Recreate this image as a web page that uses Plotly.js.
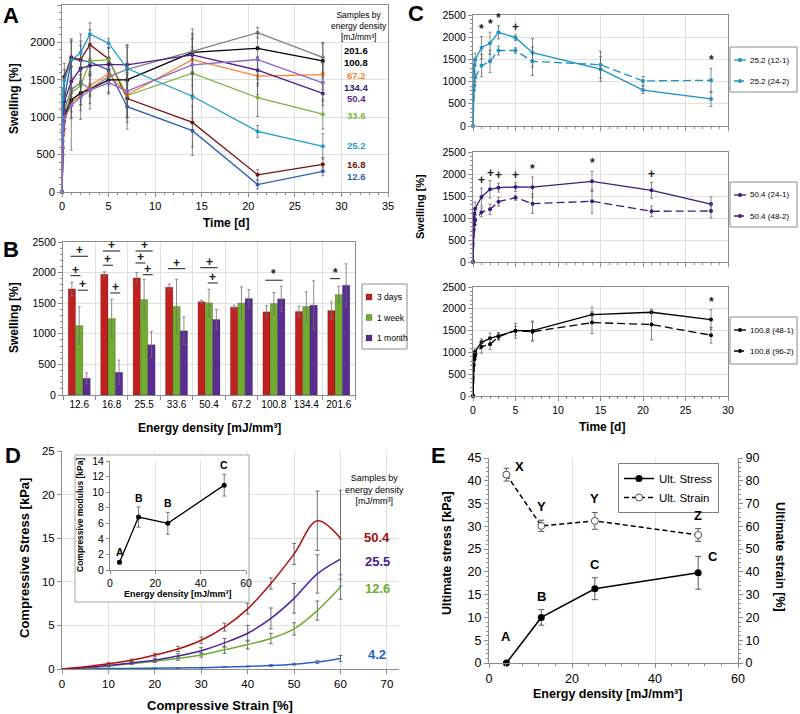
<!DOCTYPE html>
<html>
<head>
<meta charset="utf-8">
<script src="https://cdn.plot.ly/plotly-3.0.1.min.js"></script>
<style>
html,body{margin:0;padding:0;background:#ffffff;}
#chart{width:800px;height:714px;}
</style>
</head>
<body>
<div id="chart"></div>
<script>
// ===== Panel A: swelling vs time, by energy density [mJ/mm³] =====
const timeA = [0, 0.08, 0.17, 0.25, 1, 2, 3, 5, 7, 14, 21, 28];
const swellA_12_6  = [0, 900, 1100, 1230, 1780, 1760, 1740, 1630, 1140, 820, 100, 276];
const errA_12_6    = [0, 100, 120, 150, 250, 200, 180, 150, 300, 330, 60, 60];
const swellA_16_8  = [0, 1120, 1200, 1540, 1800, 1770, 1970, 1780, 1250, 930, 230, 370];
const errA_16_8    = [0, 120, 150, 180, 250, 250, 200, 150, 320, 330, 70, 90];
const swellA_25_2  = [0, 1245, 1374, 1486, 1764, 1862, 2110, 1990, 1650, 1280, 810, 610];
const errA_25_2    = [0, 150, 150, 150, 250, 250, 150, 60, 320, 300, 80, 170];
const swellA_33_6  = [0, 580, 900, 1000, 1330, 1420, 1750, 1770, 1290, 1590, 1260, 1040];
const errA_33_6    = [0, 100, 120, 150, 350, 250, 200, 150, 300, 350, 250, 200];
const swellA_50_4  = [0, 1000, 1100, 1212, 1477, 1652, 1689, 1705, 1700, 1833, 1629, 1318];
const errA_50_4    = [0, 100, 100, 150, 200, 200, 100, 100, 230, 230, 180, 160];
const swellA_67_2  = [0, 500, 780, 950, 1200, 1290, 1420, 1580, 1300, 1770, 1550, 1570];
const errA_67_2    = [0, 80, 100, 120, 200, 200, 150, 150, 300, 350, 250, 200];
const swellA_100_8 = [0, 826, 940, 1016, 1231, 1323, 1376, 1498, 1498, 1867, 1921, 1753];
const errA_100_8   = [0, 80, 80, 80, 80, 120, 80, 170, 220, 170, 20, 230];
const swellA_134_4 = [0, 600, 850, 1000, 1160, 1270, 1360, 1460, 1350, 1700, 1770, 1460];
const errA_134_4   = [0, 100, 100, 150, 600, 300, 250, 150, 350, 400, 350, 250];
const swellA_201_6 = [0, 850, 1000, 1100, 1370, 1460, 1380, 1540, 1640, 1880, 2130, 1800];
const errA_201_6   = [0, 100, 100, 150, 300, 300, 200, 200, 320, 300, 70, 200];

// ===== Panel B: swelling at 3 days / 1 week / 1 month =====
const catsB = ['12.6','16.8','25.5','33.6','50.4','67.2','100.8','134.4','201.6'];
const b3days      = [1734, 1973, 1913, 1761, 1522, 1435, 1359, 1364, 1380];
const b3daysErr   = [110, 40, 87, 54, 27, 33, 100, 87, 141];
const b1week      = [1136, 1250, 1560, 1446, 1505, 1505, 1495, 1446, 1641];
const b1weekErr   = [304, 315, 330, 446, 223, 261, 180, 240, 136];
const b1month     = [272, 370, 821, 1049, 1234, 1576, 1571, 1467, 1793];
const b1monthErr  = [90, 200, 217, 228, 163, 147, 207, 400, 350];
// significance bars: category index, from bar, to bar (0=3d,1=1w,2=1m), level, symbol
const sigCatB  = [0, 0, 0, 1, 1, 1, 2, 2, 2, 3, 4, 4, 6, 8];
const sigFromB = [0, 0, 1, 0, 0, 1, 0, 0, 1, 0, 0, 1, 0, 0];
const sigToB   = [2, 1, 2, 2, 1, 2, 2, 1, 2, 2, 2, 2, 2, 1];
const sigLvlB  = [2266, 1951, 1712, 2353, 2120, 1668, 2353, 2157, 1967, 2065, 2081, 1831, 1875, 1902];
const sigSymB  = ['+','+','+','+','+','+','+','+','+','+','+','+','*','*'];

// ===== Panel C: swelling vs time, two processing conditions =====
const timeCtop = [0, 0.08, 0.17, 0.25, 1, 2, 3, 5, 7, 15, 20, 28];
const timeC    = [0, 0.08, 0.17, 0.25, 1, 2, 3, 5, 7, 14, 21, 28];
const c25_12_1    = [0, 1245, 1374, 1486, 1764, 1862, 2110, 1990, 1650, 1280, 810, 610];
const c25_12_1Err = [0, 150, 150, 150, 250, 250, 150, 60, 320, 280, 80, 170];
const c25_24_2    = [0, 810, 910, 1090, 1360, 1457, 1700, 1700, 1457, 1380, 1015, 1030];
const c25_24_2Err = [0, 100, 100, 100, 250, 250, 100, 60, 320, 300, 100, 270];
const c50_24_1    = [0, 1000, 1100, 1212, 1477, 1652, 1689, 1705, 1700, 1833, 1629, 1318];
const c50_24_1Err = [0, 100, 100, 150, 200, 200, 100, 100, 230, 230, 180, 160];
const c50_48_2    = [0, 735, 848, 947, 1130, 1197, 1371, 1462, 1326, 1379, 1152, 1159];
const c50_48_2Err = [0, 80, 80, 100, 100, 120, 100, 60, 220, 270, 120, 160];
const c100_48_1    = [0, 826, 940, 1016, 1231, 1323, 1376, 1498, 1498, 1867, 1921, 1753];
const c100_48_1Err = [0, 80, 80, 80, 80, 120, 80, 170, 220, 170, 20, 230];
const c100_96_2    = [0, 711, 850, 922, 1131, 1185, 1360, 1498, 1475, 1684, 1639, 1395];
const c100_96_2Err = [0, 80, 80, 80, 150, 120, 80, 100, 220, 250, 350, 180];
const sigTopT = [1, 2, 3, 5, 28];            const sigTopS = ['*','*','*','+','*'];
const sigMidT = [1, 2, 3, 5, 7, 14, 21];     const sigMidS = ['+','+','+','+','*','*','+'];
const sigBotT = [28];                        const sigBotS = ['*'];

// ===== Panel D: compressive stress-strain =====
const strainD = [0, 5, 10, 15, 20, 25, 30, 35, 40, 45, 50, 55, 60];
const d50_4    = [0, 0.25, 0.6, 1.0, 1.6, 2.3, 3.3, 4.8, 6.9, 9.8, 13.2, 17.0, 15.0];
const d50_4Err = [null, null, 0.15, 0.15, 0.2, 0.3, 0.35, 0.45, 0.6, 0.65, 1.2, 3.4, 5.5];
const d25_5    = [0, 0.15, 0.4, 0.7, 1.0, 1.5, 2.1, 3.0, 4.1, 5.8, 8.1, 10.9, 12.6];
const d25_5Err = [null, null, 0.1, 0.15, 0.2, 0.25, 0.35, 0.5, 0.9, 1.2, 1.7, 2.2, 2.3];
const d12_6    = [0, 0.1, 0.35, 0.6, 0.9, 1.2, 1.6, 2.2, 2.8, 3.5, 4.6, 6.7, 9.4];
const d12_6Err = [null, null, 0.1, 0.1, 0.15, 0.2, 0.25, 0.4, 0.5, 0.6, 0.7, 1.1, 1.4];
const d4_2     = [0, 0.02, 0.05, 0.07, 0.1, 0.12, 0.15, 0.22, 0.3, 0.4, 0.55, 0.8, 1.2];
const d4_2Err  = [null, null, 0.02, 0.02, 0.03, 0.03, 0.05, 0.05, 0.05, 0.1, 0.1, 0.15, 0.35];
// inset: compressive modulus
const modX = [4.2, 12.6, 25.5, 50.4];
const modY = [1.0, 6.8, 6.0, 10.9];
const modErr = [0.2, 1.3, 1.4, 1.4];
const modLetters = ['A', 'B', 'B', 'C'];

// ===== Panel E: ultimate stress / strain =====
const eX = [4.2, 12.6, 25.5, 50.4];
const ultStress = [0, 10.0, 16.3, 19.8];
const ultStressErr = [0.3, 1.7, 2.4, 3.6];
const ultStrain = [82.7, 60.2, 62.4, 56.2];
const ultStrainErr = [2.8, 2.5, 3.7, 2.8];
const stressLetters = ['A', 'B', 'C', 'C'];
const strainLetters = ['X', 'Y', 'Y', 'Z'];

// ================= helpers =================
const W = 800, H = 714;
const px = x => x / W;
const py = y => 1 - y / H;
const FONT = '"Liberation Sans", Arial, sans-serif';
const AXC = '#8c8c8c', GRID = '#e0e0e0', ERRC = '#595959';
const rangeD_x = [0, 72.6], rangeD_y = [0, 25];

function ax(o) {
  return Object.assign({
    showline: true, linecolor: AXC, linewidth: 1, mirror: false,
    showgrid: true, gridcolor: GRID, gridwidth: 1, zeroline: false,
    ticks: 'outside', ticklen: 4, tickcolor: AXC, tickwidth: 1,
    tickfont: {family: FONT, size: 11, color: '#000'}, fixedrange: true
  }, o);
}
function minor(d) { return {dtick: d, ticks: 'outside', ticklen: 2, tickcolor: AXC, showgrid: false}; }
function txt(text, x, y, size, opts) {
  return Object.assign({text: text, x: px(x), y: py(y), xref: 'paper', yref: 'paper', showarrow: false,
    xanchor: 'center', yanchor: 'middle', font: {family: FONT, size: size, color: '#000'}}, opts || {});
}

const traces = [];
const shapes = [];
const annotations = [];

// ---------- Panel A ----------
const seriesA = [
  {y: swellA_12_6,  e: errA_12_6,  c: '#2f5fb3'},
  {y: swellA_16_8,  e: errA_16_8,  c: '#7b1010'},
  {y: swellA_33_6,  e: errA_33_6,  c: '#7cb342'},
  {y: swellA_67_2,  e: errA_67_2,  c: '#ff7f27'},
  {y: swellA_100_8, e: errA_100_8, c: '#000000'},
  {y: swellA_201_6, e: errA_201_6, c: '#7f7f7f'},
  {y: swellA_50_4,  e: errA_50_4,  c: '#4b1c8c'},
  {y: swellA_25_2,  e: errA_25_2,  c: '#1f9bcf'},
  {y: swellA_134_4, e: errA_134_4, c: '#8a63cc'}
];
seriesA.forEach(s => traces.push({
  type: 'scatter', mode: 'lines+markers', x: timeA, y: s.y, xaxis: 'x', yaxis: 'y',
  line: {color: s.c, width: 1.3}, marker: {color: s.c, size: 4},
  error_y: {type: 'data', array: s.e, color: ERRC, thickness: 0.7, width: 1.5},
  cliponaxis: false, showlegend: false, hoverinfo: 'skip'
}));
const labelsA = [
  ['201.6', 50.5, '#000000'], ['100.8', 62, '#000000'], ['67.2', 75.5, '#ff7f27'], ['134.4', 87, '#2e2470'],
  ['50.4', 98.5, '#5b2a9a'], ['33.6', 116, '#7cb342'], ['25.2', 146, '#1f9bcf'], ['16.8', 164.5, '#7b1010'], ['12.6', 176.5, '#2f5fb3']
];
labelsA.forEach(l => annotations.push(txt('<b>' + l[0] + '</b>', 356, l[1], 9.5, {font: {family: FONT, size: 9.5, color: l[2]}})));
annotations.push(txt('Samples by<br>energy density<br>[mJ/mm³]', 359, 26, 8.5));

// ---------- Panel B ----------
const barDefs = [
  {name: '3 days', y: b3days, e: b3daysErr, c: '#c0211f'},
  {name: '1 week', y: b1week, e: b1weekErr, c: '#6fac2f'},
  {name: '1 month', y: b1month, e: b1monthErr, c: '#5b2c91'}
];
barDefs.forEach(b => traces.push({
  type: 'bar', name: b.name, x: catsB, y: b.y, xaxis: 'x2', yaxis: 'y2',
  marker: {color: b.c, line: {color: 'rgba(0,0,0,0.35)', width: 0.5}},
  error_y: {type: 'data', array: b.e, color: '#707070', thickness: 0.8, width: 1.5},
  showlegend: false, hoverinfo: 'skip'
}));
const BARGAP = 0.32;
const offB = (1 - BARGAP) / 3;
sigCatB.forEach((c, i) => {
  const x0 = c + offB * (sigFromB[i] - 1) - 0.04;
  const x1 = c + offB * (sigToB[i] - 1) + 0.04;
  shapes.push({type: 'line', xref: 'x2', yref: 'y2', x0: x0, x1: x1, y0: sigLvlB[i], y1: sigLvlB[i],
    line: {color: '#404040', width: 1.2}});
  annotations.push({text: '<b>' + sigSymB[i] + '</b>', x: (x0 + x1) / 2, y: sigLvlB[i], xref: 'x2', yref: 'y2',
    showarrow: false, yanchor: 'bottom', yshift: -3, font: {family: FONT, size: 12, color: '#202020'}});
});
// manual legend B
shapes.push({type: 'rect', xref: 'paper', yref: 'paper', x0: px(362), x1: px(407), y0: py(349), y1: py(284),
  fillcolor: '#fff', line: {color: AXC, width: 1}});
barDefs.forEach((b, i) => {
  const yc = 297 + 20.5 * i;
  shapes.push({type: 'rect', xref: 'paper', yref: 'paper', x0: px(366), x1: px(372), y0: py(yc + 3), y1: py(yc - 3),
    fillcolor: b.c, line: {color: 'rgba(0,0,0,0.4)', width: 0.5}});
  annotations.push(txt(b.name, 375, yc, 8.5, {xanchor: 'left'}));
});

// ---------- Panel C ----------
const panelsC = [
  {xa: 'x3', ya: 'y3', t: timeCtop, color: '#1a94c4', s1: c25_12_1, e1: c25_12_1Err, s2: c25_24_2, e2: c25_24_2Err,
    n1: '25.2 (12-1)', n2: '25.2 (24-2)', sigT: sigTopT, sigS: sigTopS, box: [47, 92]},
  {xa: 'x4', ya: 'y4', t: timeC, color: '#3d1a80', s1: c50_24_1, e1: c50_24_1Err, s2: c50_48_2, e2: c50_48_2Err,
    n1: '50.4 (24-1)', n2: '50.4 (48-2)', sigT: sigMidT, sigS: sigMidS, box: [182, 227]},
  {xa: 'x5', ya: 'y5', t: timeC, color: '#000000', s1: c100_48_1, e1: c100_48_1Err, s2: c100_96_2, e2: c100_96_2Err,
    n1: '100.8 (48-1)', n2: '100.8 (96-2)', sigT: sigBotT, sigS: sigBotS, box: [317, 364]}
];
panelsC.forEach(p => {
  traces.push({type: 'scatter', mode: 'lines+markers', name: p.n1, x: p.t, y: p.s1, xaxis: p.xa, yaxis: p.ya,
    line: {color: p.color, width: 1.3}, marker: {color: p.color, size: 4},
    error_y: {type: 'data', array: p.e1, color: ERRC, thickness: 0.7, width: 1.5},
    cliponaxis: false, showlegend: false, hoverinfo: 'skip'});
  traces.push({type: 'scatter', mode: 'lines+markers', name: p.n2, x: p.t, y: p.s2, xaxis: p.xa, yaxis: p.ya,
    line: {color: p.color, width: 1.3, dash: '8px,4px'}, marker: {color: p.color, size: 4},
    error_y: {type: 'data', array: p.e2, color: ERRC, thickness: 0.7, width: 1.5},
    cliponaxis: false, showlegend: false, hoverinfo: 'skip'});
  p.sigT.forEach((tt, k) => {
    const i = timeC.indexOf(tt);
    const top = Math.max(p.s1[i] + p.e1[i], p.s2[i] + p.e2[i]);
    annotations.push({text: '<b>' + p.sigS[k] + '</b>', x: p.t[i], y: top, xref: p.xa, yref: p.ya,
      showarrow: false, yanchor: 'bottom', yshift: -1, font: {family: FONT, size: 12, color: '#202020'}});
  });
  // manual legend
  shapes.push({type: 'rect', xref: 'paper', yref: 'paper', x0: px(730), x1: px(797), y0: py(p.box[1]), y1: py(p.box[0]),
    fillcolor: '#fff', line: {color: AXC, width: 1}});
  [[p.n1, 'solid', p.box[0] + 13], [p.n2, '4px,2px', p.box[0] + 34]].forEach(e => {
    shapes.push({type: 'line', xref: 'paper', yref: 'paper', x0: px(734), x1: px(746), y0: py(e[2]), y1: py(e[2]),
      line: {color: p.color, width: 1.3, dash: e[1]}});
    shapes.push({type: 'circle', xref: 'paper', yref: 'paper', x0: px(738), x1: px(742), y0: py(e[2] + 2), y1: py(e[2] - 2),
      fillcolor: p.color, line: {color: p.color, width: 0}});
    annotations.push(txt(e[0], 748, e[2], 8, {xanchor: 'left'}));
  });
});

// ---------- Panel D ----------
const seriesD = [
  {y: d4_2, e: d4_2Err, c: '#2563c0'},
  {y: d12_6, e: d12_6Err, c: '#6fac2f'},
  {y: d25_5, e: d25_5Err, c: '#5020a0'},
  {y: d50_4, e: d50_4Err, c: '#b01010'}
];
seriesD.forEach(s => traces.push({
  type: 'scatter', mode: 'lines', x: strainD, y: s.y, xaxis: 'x6', yaxis: 'y6',
  line: {color: s.c, width: 1.5, shape: 'spline', smoothing: 1},
  error_y: {type: 'data', array: s.e, color: '#707070', thickness: 1, width: 2},
  showlegend: false, hoverinfo: 'skip'
}));
[['50.4', 537, '#a01010'], ['25.5', 561, '#4b1c8c'], ['12.6', 588, '#6fac2f'], ['4.2', 654, '#2563c0']].forEach(l =>
  annotations.push(txt('<b>' + l[0] + '</b>', 377, l[1], 13, {font: {family: FONT, size: 13, color: l[2]}})));
annotations.push(txt('Samples by<br>energy density<br>[mJ/mm³]', 374, 489, 9));
// inset background box (drawn between D gridlines and D traces); pixel frame converted to D's axis scale
const fx = p => rangeD_x[0] + (rangeD_x[1] - rangeD_x[0]) * (p - 62) / 337;
const fy = p => rangeD_y[0] + (rangeD_y[1] - rangeD_y[0]) * (669 - p) / 218;
shapes.push({type: 'rect', xref: 'x6', yref: 'y6', layer: 'between',
  x0: fx(75), x1: fx(249), y0: fy(602), y1: fy(455),
  fillcolor: '#ffffff', line: {color: '#a6a6a6', width: 1}});
traces.push({type: 'scatter', mode: 'lines+markers', x: modX, y: modY, xaxis: 'x7', yaxis: 'y7',
  line: {color: '#000', width: 1.3}, marker: {color: '#000', size: 5},
  error_y: {type: 'data', array: modErr, color: ERRC, thickness: 0.8, width: 2},
  cliponaxis: false, showlegend: false, hoverinfo: 'skip'});
modLetters.forEach((l, i) => annotations.push({text: '<b>' + l + '</b>', x: modX[i], y: modY[i] + modErr[i],
  xref: 'x7', yref: 'y7', showarrow: false, yanchor: 'bottom', yshift: 1, font: {family: FONT, size: 10.5, color: '#000'}}));

// ---------- Panel E ----------
traces.push({type: 'scatter', mode: 'lines+markers', name: 'Ult. Stress', x: eX, y: ultStress, xaxis: 'x8', yaxis: 'y8',
  line: {color: '#000', width: 1.5}, marker: {color: '#000', size: 7, symbol: 'circle'},
  error_y: {type: 'data', array: ultStressErr, color: ERRC, thickness: 1, width: 3},
  cliponaxis: false, legendgroup: 'a', hoverinfo: 'skip'});
traces.push({type: 'scatter', mode: 'lines+markers', name: 'Ult. Strain', x: eX, y: ultStrain, xaxis: 'x8', yaxis: 'y9',
  line: {color: '#000', width: 1.5, dash: '5px,3px'}, marker: {color: '#fff', size: 7, symbol: 'circle', line: {color: '#555', width: 1}},
  error_y: {type: 'data', array: ultStrainErr, color: ERRC, thickness: 1, width: 3},
  cliponaxis: false, legendgroup: 'b', hoverinfo: 'skip'});
stressLetters.forEach((l, i) => {
  const last = i === stressLetters.length - 1;
  annotations.push({text: '<b>' + l + '</b>', x: eX[i], y: ultStress[i] + ultStressErr[i], xref: 'x8', yref: 'y8',
    showarrow: false, yanchor: last ? 'middle' : 'bottom', xshift: last ? 15 : 0, yshift: last ? 0 : (i === 0 ? 16 : 4),
    font: {family: FONT, size: 13, color: '#000'}});
});
strainLetters.forEach((l, i) => {
  const first = i === 0;
  annotations.push({text: '<b>' + l + '</b>', x: eX[i], y: ultStrain[i] + ultStrainErr[i], xref: 'x8', yref: 'y9',
    showarrow: false, yanchor: first ? 'middle' : 'bottom', xshift: first ? 13 : 0, yshift: first ? 2 : 4,
    font: {family: FONT, size: 13, color: '#000'}});
});

// ---------- titles & panel letters ----------
const B = s => '<b>' + s + '</b>';
annotations.push(txt(B('Time [d]'), 226, 223, 12));
annotations.push(txt(B('Swelling [%]'), 14, 99, 12, {textangle: -90}));
annotations.push(txt(B('Swelling [%]'), 14, 318, 12, {textangle: -90}));
annotations.push(txt(B('Energy density [mJ/mm³]'), 209, 428, 12));
annotations.push(txt(B('Swelling [%]'), 420, 207, 11, {textangle: -90}));
annotations.push(txt(B('Time [d]'), 602, 427, 12));
annotations.push(txt(B('Compressive Stress [kPa]'), 24, 558, 13, {textangle: -90}));
annotations.push(txt(B('Compressive Strain [%]'), 220, 705, 13));
annotations.push(txt(B('Compressive modulus [kPa]'), 80, 515, 8.5, {textangle: -90}));
annotations.push(txt(B('Energy density [mJ/mm³]'), 178, 594, 9));
annotations.push(txt(B('Energy density [mJ/mm³]'), 607, 694, 12.5));
annotations.push(txt(B('Ultimate stress [kPa]'), 447, 553, 12.5, {textangle: -90}));
annotations.push(txt(B('Ultimate strain [%]'), 780, 557, 12.5, {textangle: 90}));
[['A', 11, 15], ['B', 11, 250], ['C', 416, 13], ['D', 13, 456], ['E', 438, 456]].forEach(l =>
  annotations.push(txt(B(l[0]), l[1], l[2], 22, {font: {family: FONT, size: 22, color: '#000'}})));

// ================= layout =================
const layout = {
  width: W, height: H, margin: {l: 0, r: 0, t: 0, b: 0},
  paper_bgcolor: '#ffffff', plot_bgcolor: '#ffffff',
  font: {family: FONT, size: 11, color: '#000'},
  barmode: 'group', bargap: BARGAP, bargroupgap: 0,
  showlegend: true,
  legend: {x: px(618), y: py(463), xanchor: 'left', yanchor: 'top', bgcolor: '#fff', bordercolor: '#7f7f7f', borderwidth: 1,
    font: {family: FONT, size: 11.5, color: '#000'}, itemwidth: 30, tracegroupgap: 0, traceorder: 'normal'},
  // A
  xaxis: ax({domain: [px(62), px(388)], anchor: 'y', range: [0, 35], dtick: 5, tick0: 0, mirror: true, minor: minor(1)}),
  yaxis: ax({domain: [py(192), py(5)], anchor: 'x', range: [0, 2500], dtick: 500, mirror: true, minor: minor(100)}),
  // B
  xaxis2: ax({domain: [px(63), px(355)], anchor: 'y2', type: 'category', categoryorder: 'array', categoryarray: catsB,
    range: [-0.5, 8.5], tickson: 'boundaries', tickangle: 0, mirror: true, tickfont: {family: FONT, size: 10, color: '#000'}}),
  yaxis2: ax({domain: [py(395), py(242)], anchor: 'x2', range: [0, 2500], dtick: 500, mirror: true, minor: minor(100),
    tickfont: {family: FONT, size: 10.5, color: '#000'}}),
  // C
  xaxis3: ax({domain: [px(473), px(728)], anchor: 'y3', range: [0, 30], dtick: 5, showticklabels: false, mirror: true, minor: minor(1)}),
  yaxis3: ax({domain: [py(126), py(15)], anchor: 'x3', range: [0, 2500], dtick: 500, mirror: true, minor: minor(100), tickfont: {family: FONT, size: 10.5, color: '#000'}}),
  xaxis4: ax({domain: [px(473), px(728)], anchor: 'y4', range: [0, 30], dtick: 5, showticklabels: false, mirror: true, minor: minor(1)}),
  yaxis4: ax({domain: [py(262), py(152)], anchor: 'x4', range: [0, 2500], dtick: 500, mirror: true, minor: minor(100), tickfont: {family: FONT, size: 10.5, color: '#000'}}),
  xaxis5: ax({domain: [px(473), px(728)], anchor: 'y5', range: [0, 30], dtick: 5, mirror: true, minor: minor(1), tickfont: {family: FONT, size: 10.5, color: '#000'}}),
  yaxis5: ax({domain: [py(396), py(287)], anchor: 'x5', range: [0, 2500], dtick: 500, mirror: true, minor: minor(100), tickfont: {family: FONT, size: 10.5, color: '#000'}}),
  // D
  xaxis6: ax({domain: [px(62), px(399)], anchor: 'y6', range: rangeD_x, dtick: 10, tick0: 0, tickfont: {family: FONT, size: 11.5, color: '#000'}}),
  yaxis6: ax({domain: [py(669), py(451)], anchor: 'x6', range: rangeD_y, dtick: 5, tickfont: {family: FONT, size: 11.5, color: '#000'}}),
  // D inset
  xaxis7: ax({domain: [px(110), px(246)], anchor: 'y7', range: [0, 60], dtick: 20, ticklen: 3, tickfont: {family: FONT, size: 10.5, color: '#000'}}),
  yaxis7: ax({domain: [py(570), py(461)], anchor: 'x7', range: [0, 14], dtick: 2, ticklen: 3, showgrid: false, tickfont: {family: FONT, size: 10.5, color: '#000'}}),
  // E
  xaxis8: ax({domain: [px(489), px(738)], anchor: 'y8', range: [0, 60], dtick: 20, minor: minor(4), tickfont: {family: FONT, size: 12.5, color: '#000'}}),
  yaxis8: ax({domain: [py(663), py(458)], anchor: 'x8', range: [0, 45], dtick: 5, minor: minor(1), showgrid: false, tickfont: {family: FONT, size: 12.5, color: '#000'}}),
  yaxis9: ax({overlaying: 'y8', side: 'right', anchor: 'x8', range: [0, 90], dtick: 10, minor: minor(2), showgrid: false, tickfont: {family: FONT, size: 12.5, color: '#000'}}),
  shapes: shapes,
  annotations: annotations
};

Plotly.newPlot('chart', traces, layout, {staticPlot: true, displayModeBar: false});
</script>
</body>
</html>
